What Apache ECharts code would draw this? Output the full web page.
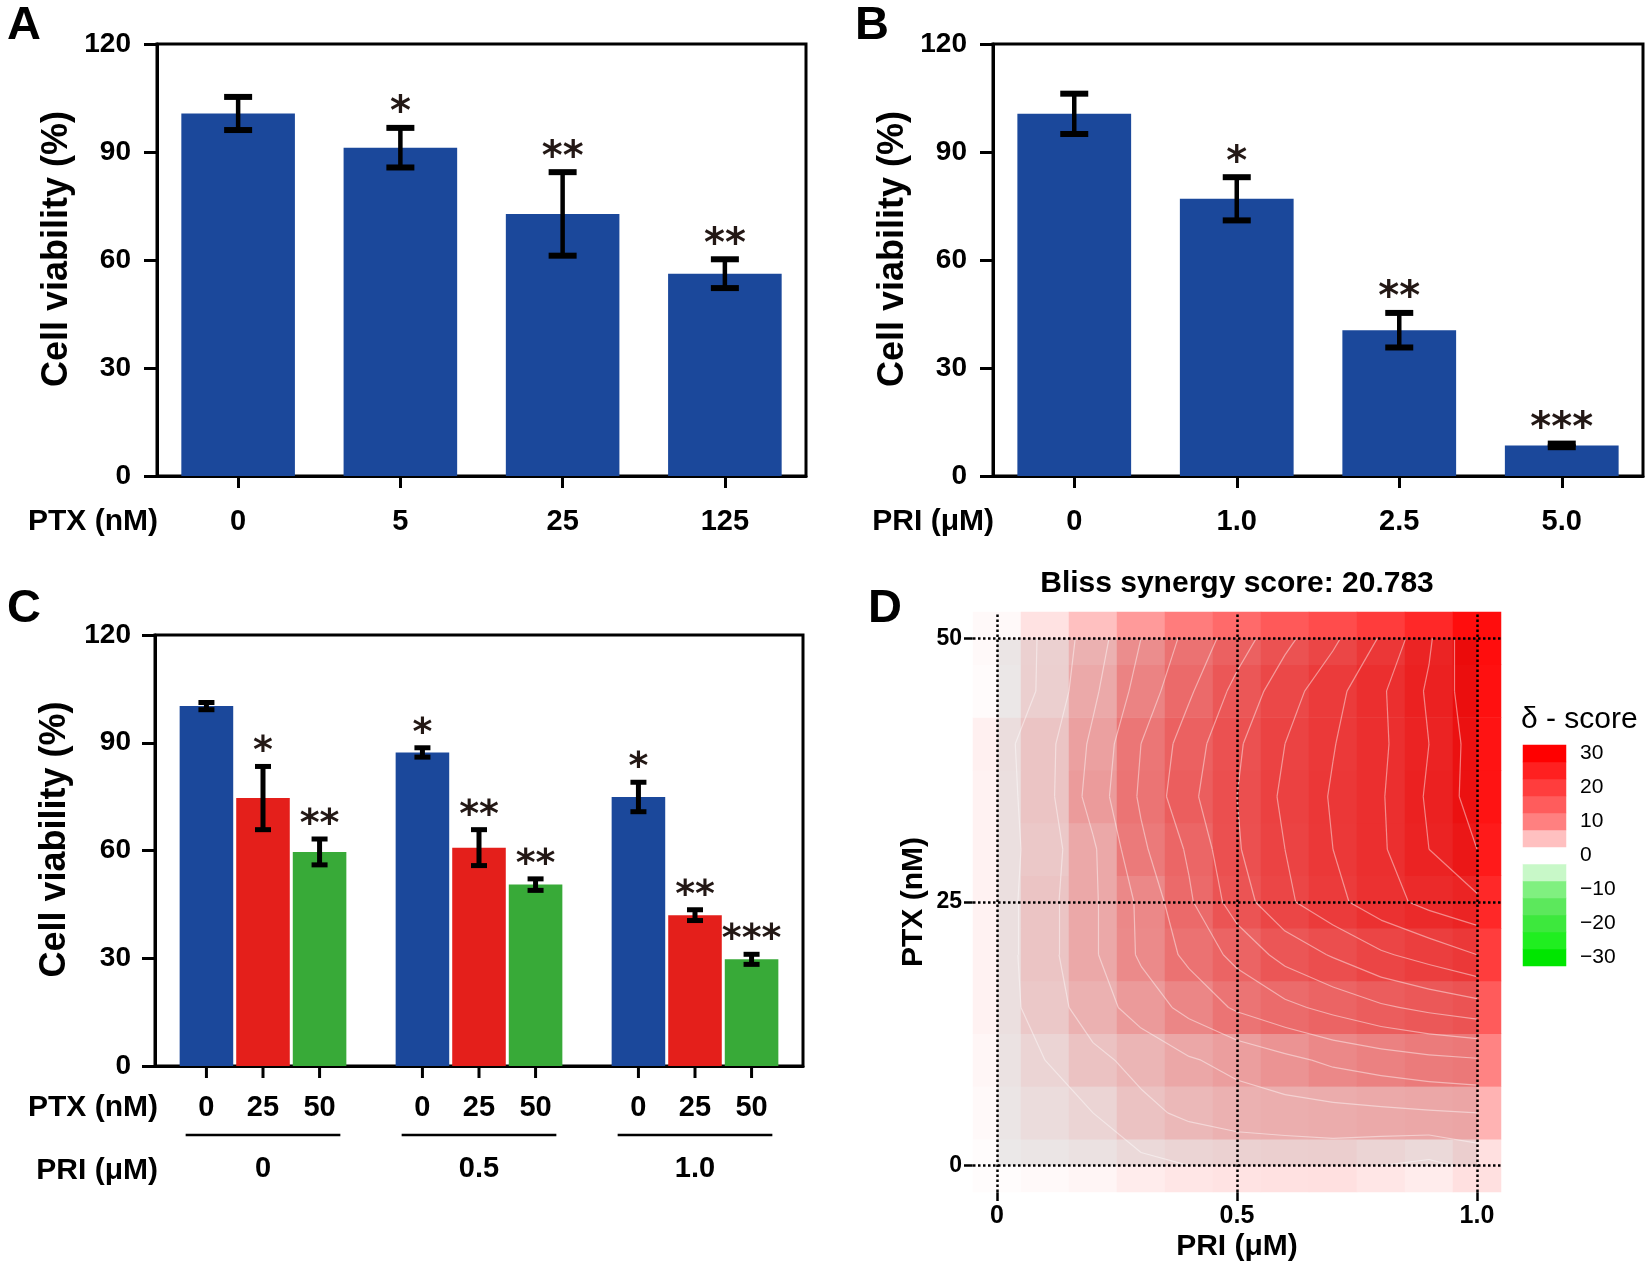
<!DOCTYPE html>
<html><head><meta charset="utf-8">
<script src="https://cdn.jsdelivr.net/npm/echarts@6/dist/echarts.min.js"></script>
<style>html,body{margin:0;padding:0;background:#fff}#c{width:1652px;height:1267px}</style>
</head><body><div id="c"></div>
<script>
// ---------- DATA ----------
// Panel A
const ptxDosesA = ['0', '5', '25', '125'];
const viabilityA = [100.7, 91.2, 72.8, 56.2];
const sdA = [4.6, 5.5, 11.6, 4.0];
const starsA = ['', '*', '**', '**'];
// Panel B
const priDosesB = ['0', '1.0', '2.5', '5.0'];
const viabilityB = [100.6, 77.0, 40.5, 8.5];
const sdB = [5.6, 6.0, 4.8, 0.5];
const starsB = ['', '*', '**', '***'];
// Panel C
const priGroupsC = ['0', '0.5', '1.0'];
const ptxLevelsC = ['0', '25', '50'];
const viabilityC_PTX0 = [100.2, 87.3, 74.9];
const viabilityC_PTX25 = [74.6, 60.8, 42.0];
const viabilityC_PTX50 = [59.6, 50.5, 29.7];
const sdC_PTX0 = [1.0, 1.3, 4.1];
const sdC_PTX25 = [8.8, 5.0, 1.5];
const sdC_PTX50 = [3.6, 1.6, 1.4];
const starsC_PTX0 = ['', '*', '*'];
const starsC_PTX25 = ['*', '**', '**'];
const starsC_PTX50 = ['**', '**', '***'];
// Panel D
const priD = ['0', '0.1', '0.2', '0.3', '0.4', '0.5', '0.6', '0.7', '0.8', '0.9', '1.0'];
const ptxD = ['0', '5', '10', '15', '20', '25', '30', '35', '40', '45', '50'];
// delta scores, one row per PTX level (0 -> 50), columns PRI 0 -> 1.0
const deltaPTX0  = [0.2, 0.5, 0.8, 1.5, 2.0, 2.2, 2.4, 2.5, 2.0, 1.5, 2.5];
const deltaPTX5  = [0.5, 1.3, 2.0, 3.5, 4.4, 5.0, 5.2, 5.4, 5.6, 5.8, 6.0];
const deltaPTX10 = [0.7, 2.0, 3.5, 4.6, 5.8, 6.6, 7.5, 8.4, 9.0, 9.5, 9.8];
const deltaPTX15 = [1.0, 3.0, 5.0, 6.9, 8.6, 10.3, 11.5, 12.6, 13.7, 14.5, 15.2];
const deltaPTX20 = [1.0, 3.3, 5.7, 8.3, 10.5, 12.6, 14.7, 16.2, 17.7, 18.8, 20.0];
const deltaPTX25 = [1.0, 3.3, 5.7, 8.4, 11.7, 15.0, 17.6, 19.4, 21.2, 22.6, 23.6];
const deltaPTX30 = [1.0, 3.0, 5.7, 9.6, 12.3, 15.8, 18.0, 20.0, 21.7, 24.0, 26.0];
const deltaPTX35 = [1.0, 3.3, 6.8, 10.3, 13.5, 16.0, 18.4, 20.2, 21.8, 24.3, 27.0];
const deltaPTX40 = [1.2, 3.3, 6.4, 10.0, 13.0, 15.7, 18.0, 19.9, 21.6, 24.0, 27.0];
const deltaPTX45 = [0.3, 2.4, 5.6, 8.8, 11.7, 14.6, 17.1, 19.3, 21.7, 24.3, 27.5];
const deltaPTX50 = [0.5, 2.3, 5.0, 8.0, 10.6, 13.0, 15.5, 17.6, 20.2, 23.7, 28.0];
const blissScore = '20.783';
const contourLevels = [2, 4, 6, 8, 10, 12, 14, 16, 18, 20, 22, 24, 26];
const legendBands = [-30, -25, -20, -15, -10, -5, 0, 5, 10, 15, 20, 25, 30];

// ---------- HELPERS ----------
const FONT = "'Liberation Sans', Arial, sans-serif";
const STARFONT = "'DejaVu Sans', sans-serif";
const BLUE = '#1b489b', RED = '#e41f1b', GREEN = '#38aa38';
const deltaRows = [deltaPTX0, deltaPTX5, deltaPTX10, deltaPTX15, deltaPTX20, deltaPTX25,
  deltaPTX30, deltaPTX35, deltaPTX40, deltaPTX45, deltaPTX50];

function valueY(gridIndex, labelMargin) {
  return {
    type: 'value', gridIndex, min: 0, max: 120, interval: 30,
    axisLine: { show: true, lineStyle: { color: '#000', width: 3 } },
    axisTick: { show: true, length: 13, lineStyle: { color: '#000', width: 3 } },
    axisLabel: { color: '#000', fontSize: 28, fontWeight: 'bold', fontFamily: FONT, margin: labelMargin },
    splitLine: { show: false },
    name: 'Cell viability (%)', nameLocation: 'middle', nameGap: 82, nameRotate: 90,
    nameTextStyle: { color: '#000', fontSize: 36, fontWeight: 'bold', fontFamily: FONT, padding: [0, 0, 0, 22] }
  };
}
function catX(gridIndex, data, showTick, margin) {
  return {
    type: 'category', gridIndex, data,
    axisLine: { lineStyle: { color: '#000', width: 3 } },
    axisTick: { show: showTick, alignWithLabel: true, length: 12, lineStyle: { color: '#000', width: 3 } },
    axisLabel: { color: '#000', fontSize: 29, fontWeight: 'bold', fontFamily: FONT, margin }
  };
}
function errSeries(xi, yi, means, sds, stars, opts) {
  const data = means.map((m, i) => [i, m, sds[i]]);
  return {
    type: 'custom', xAxisIndex: xi, yAxisIndex: yi, data, z: 5, silent: true,
    encode: { x: 0, y: 1 },
    renderItem: function (params, api) {
      const i = api.value(0), m = api.value(1), sd = api.value(2);
      const star = stars[params.dataIndex];
      let off = 0;
      if (opts.nBars) {
        const band = api.size([1, 0])[0];
        const w = band * opts.barFrac, gap = w * opts.gapFrac;
        const total = opts.nBars * w + (opts.nBars - 1) * gap;
        off = -total / 2 + opts.k * (w + gap) + w / 2;
      }
      const top = api.coord([i, m + sd]), bot = api.coord([i, m - sd]);
      const x = top[0] + off;
      const ch = opts.cap;
      const children = [
        { type: 'line', shape: { x1: x, y1: top[1], x2: x, y2: bot[1] }, style: { stroke: '#000', lineWidth: opts.lw } },
        { type: 'line', shape: { x1: x - ch, y1: top[1], x2: x + ch, y2: top[1] }, style: { stroke: '#000', lineWidth: opts.capLw } },
        { type: 'line', shape: { x1: x - ch, y1: bot[1], x2: x + ch, y2: bot[1] }, style: { stroke: '#000', lineWidth: opts.capLw } }
      ];
      if (star) {
        children.push({ type: 'text', style: { text: star, x: x, y: top[1] - opts.starGap, align: 'center', verticalAlign: 'middle',
          fill: '#231815', font: 'bold ' + opts.starSize + 'px ' + STARFONT } });
      }
      return { type: 'group', children };
    }
  };
}
function contourSegments(grid, xs, ys, levels) {
  const segs = [];
  levels.forEach(L => {
    for (let j = 0; j < ys.length - 1; j++) {
      for (let i = 0; i < xs.length - 1; i++) {
        const cx = [xs[i], xs[i + 1], xs[i + 1], xs[i]];
        const cy = [ys[j], ys[j], ys[j + 1], ys[j + 1]];
        const cv = [grid[j][i], grid[j][i + 1], grid[j + 1][i + 1], grid[j + 1][i]];
        const pts = [];
        [[0, 1], [1, 2], [2, 3], [3, 0]].forEach(([a, b]) => {
          if ((cv[a] < L) !== (cv[b] < L)) {
            const t = (L - cv[a]) / (cv[b] - cv[a]);
            pts.push([cx[a] + t * (cx[b] - cx[a]), cy[a] + t * (cy[b] - cy[a])]);
          }
        });
        if (pts.length === 2) segs.push({ coords: [pts[0], pts[1]] });
        else if (pts.length === 4) { segs.push({ coords: [pts[0], pts[1]] }); segs.push({ coords: [pts[2], pts[3]] }); }
      }
    }
  });
  return segs;
}

const heatData = [];
deltaRows.forEach((row, j) => row.forEach((v, i) => heatData.push([i, j, v])));
const contours = contourSegments(deltaRows, priD.map(Number), ptxD.map(Number), contourLevels);
const legendData = legendBands.map((v, k) => [0, k, v]);
const minus = v => (Number(v) < 0 ? '\u2212' + Math.abs(Number(v)) : String(v));

// ---------- CHART ----------
const chart = echarts.init(document.getElementById('c'), null, { renderer: 'canvas' });
const gridBorder = { show: true, borderColor: '#000', borderWidth: 3, backgroundColor: 'transparent' };
const optsAB = { cap: 14, lw: 4.5, capLw: 6, starGap: 14, starSize: 40 };
const optsC = { nBars: 3, barFrac: 0.248, gapFrac: 0.056, cap: 8, lw: 5, capLw: 5, starGap: 14, starSize: 38 };

const option = {
  animation: false,
  backgroundColor: '#fff',
  grid: [
    Object.assign({ left: 157, top: 44, width: 649, height: 432 }, gridBorder),
    Object.assign({ left: 993, top: 44, width: 650, height: 432 }, gridBorder),
    Object.assign({ left: 155, top: 635, width: 648, height: 431 }, gridBorder),
    { left: 973, top: 612, width: 528, height: 580 },
    { left: 973, top: 612, width: 528, height: 580 },
    { left: 1523, top: 745, width: 43, height: 221 }
  ],
  xAxis: [
    catX(0, ptxDosesA, true, 31),
    catX(1, priDosesB, true, 31),
    catX(2, priGroupsC, false, 88),
    {
      type: 'category', gridIndex: 3, data: priD,
      axisLine: { show: false },
      axisTick: { show: true, alignWithLabel: true, interval: idx => idx % 5 === 0, length: 9, lineStyle: { color: '#000', width: 2.5 } },
      axisLabel: { interval: idx => idx % 5 === 0, color: '#000', fontSize: 25, fontWeight: 'bold', fontFamily: FONT, margin: 12 },
      name: 'PRI (\u03bcM)', nameLocation: 'middle', nameGap: 40,
      nameTextStyle: { color: '#000', fontSize: 30, fontWeight: 'bold', fontFamily: FONT }
    },
    { type: 'value', gridIndex: 4, min: -0.05, max: 1.05, show: false },
    { type: 'category', gridIndex: 5, data: ['band'], show: false }
  ],
  yAxis: [
    valueY(0, 26),
    valueY(1, 26),
    valueY(2, 24),
    {
      type: 'category', gridIndex: 3, data: ptxD,
      axisLine: { show: false },
      axisTick: { show: true, alignWithLabel: true, interval: idx => idx % 5 === 0, length: 9, lineStyle: { color: '#000', width: 2.5 } },
      axisLabel: { interval: idx => idx % 5 === 0, color: '#000', fontSize: 23, fontWeight: 'bold', fontFamily: FONT, margin: 11 },
      name: 'PTX (nM)', nameLocation: 'middle', nameGap: 44, nameRotate: 90,
      nameTextStyle: { color: '#000', fontSize: 30, fontWeight: 'bold', fontFamily: FONT }
    },
    { type: 'value', gridIndex: 4, min: -2.5, max: 52.5, show: false },
    {
      type: 'category', gridIndex: 5, data: legendBands.map(String), position: 'right',
      axisLine: { show: false },
      axisTick: { show: true, inside: true, alignWithLabel: true, interval: idx => legendBands[idx] % 10 === 0, length: 8, lineStyle: { color: '#fff', width: 1.5 } },
      axisLabel: { interval: idx => legendBands[idx] % 10 === 0, color: '#000', fontSize: 21, fontFamily: FONT, margin: 14, formatter: minus }
    }
  ],
  visualMap: {
    type: 'continuous', show: false, min: -30, max: 30, seriesIndex: [11, 13],
    inRange: { color: ['#00e600', '#20ee20', '#3de83d', '#5ce85c', '#80f080', '#c8f8c8', '#ffffff',
      '#ffc0c0', '#ff8080', '#ff5c5c', '#ff3d3d', '#ff2020', '#ff0000'] }
  },
  series: [
    // 0,1 panel A
    { type: 'bar', xAxisIndex: 0, yAxisIndex: 0, data: viabilityA, barWidth: '70%', itemStyle: { color: BLUE } },
    errSeries(0, 0, viabilityA, sdA, starsA, optsAB),
    // 2,3 panel B
    { type: 'bar', xAxisIndex: 1, yAxisIndex: 1, data: viabilityB, barWidth: '70%', itemStyle: { color: BLUE } },
    errSeries(1, 1, viabilityB, sdB, starsB, optsAB),
    // 4-6 panel C bars
    { type: 'bar', xAxisIndex: 2, yAxisIndex: 2, data: viabilityC_PTX0, barWidth: '24.8%', barGap: '5.6%', itemStyle: { color: BLUE } },
    { type: 'bar', xAxisIndex: 2, yAxisIndex: 2, data: viabilityC_PTX25, barWidth: '24.8%', barGap: '5.6%', itemStyle: { color: RED } },
    { type: 'bar', xAxisIndex: 2, yAxisIndex: 2, data: viabilityC_PTX50, barWidth: '24.8%', barGap: '5.6%', itemStyle: { color: GREEN } },
    // 7-9 panel C error bars
    errSeries(2, 2, viabilityC_PTX0, sdC_PTX0, starsC_PTX0, Object.assign({ k: 0 }, optsC)),
    errSeries(2, 2, viabilityC_PTX25, sdC_PTX25, starsC_PTX25, Object.assign({ k: 1 }, optsC)),
    errSeries(2, 2, viabilityC_PTX50, sdC_PTX50, starsC_PTX50, Object.assign({ k: 2 }, optsC)),
    // 10 panel C ticks / PTX labels / brackets
    {
      type: 'custom', xAxisIndex: 2, yAxisIndex: 2, silent: true, z: 5,
      data: priGroupsC.map((g, i) => [i, 0]), encode: { x: 0, y: 1 },
      renderItem: function (params, api) {
        const g = api.value(0);
        const base = api.coord([g, 0]);
        const band = api.size([1, 0])[0];
        const w = band * optsC.barFrac, gap = w * optsC.gapFrac;
        const total = 3 * w + 2 * gap;
        const children = [];
        ptxLevelsC.forEach((lab, k) => {
          const x = base[0] - total / 2 + k * (w + gap) + w / 2;
          children.push({ type: 'line', shape: { x1: x, y1: base[1], x2: x, y2: base[1] + 12 }, style: { stroke: '#000', lineWidth: 3 } });
          children.push({ type: 'text', style: { text: lab, x: x, y: base[1] + 42, align: 'center', verticalAlign: 'middle', fill: '#000', font: 'bold 29px ' + FONT } });
        });
        const half = total / 2 - 6;
        children.push({ type: 'line', shape: { x1: base[0] - half, y1: base[1] + 69, x2: base[0] + half, y2: base[1] + 69 }, style: { stroke: '#000', lineWidth: 2.5 } });
        return { type: 'group', children };
      }
    },
    // 11 panel D heatmap
    {
      type: 'heatmap', xAxisIndex: 3, yAxisIndex: 3, data: heatData, z: 2, silent: true,
      markArea: { silent: true, z: 3, itemStyle: { color: 'rgba(0,0,0,0.08)' },
        data: [[{ xAxis: '0', yAxis: '0' }, { xAxis: '1.0', yAxis: '50' }]] },
      markLine: { silent: true, symbol: 'none', z: 6, label: { show: false },
        lineStyle: { color: '#000', type: 'dotted', width: 2.5 },
        data: [{ xAxis: '0' }, { xAxis: '0.5' }, { xAxis: '1.0' }, { yAxis: '0' }, { yAxis: '25' }, { yAxis: '50' }] }
    },
    // 12 contours
    {
      type: 'lines', coordinateSystem: 'cartesian2d', xAxisIndex: 4, yAxisIndex: 4, polyline: false,
      data: contours, silent: true, z: 4,
      lineStyle: { color: '#ffffff', width: 1.2, opacity: 0.45 }
    },
    // 13 legend
    { type: 'heatmap', xAxisIndex: 5, yAxisIndex: 5, data: legendData, silent: true }
  ],
  graphic: [
    { type: 'text', left: 7, top: 3, style: { text: 'A', font: 'bold 47px ' + FONT, fill: '#000' } },
    { type: 'text', left: 855, top: 3, style: { text: 'B', font: 'bold 47px ' + FONT, fill: '#000' } },
    { type: 'text', left: 7, top: 586, style: { text: 'C', font: 'bold 47px ' + FONT, fill: '#000' } },
    { type: 'text', left: 868, top: 586, style: { text: 'D', font: 'bold 47px ' + FONT, fill: '#000' } },
    { type: 'text', x: 158, y: 522, style: { text: 'PTX (nM)', align: 'right', verticalAlign: 'middle', font: 'bold 30px ' + FONT, fill: '#000' } },
    { type: 'text', x: 994, y: 522, style: { text: 'PRI (\u03bcM)', align: 'right', verticalAlign: 'middle', font: 'bold 30px ' + FONT, fill: '#000' } },
    { type: 'text', x: 158, y: 1108, style: { text: 'PTX (nM)', align: 'right', verticalAlign: 'middle', font: 'bold 30px ' + FONT, fill: '#000' } },
    { type: 'text', x: 158, y: 1171, style: { text: 'PRI (\u03bcM)', align: 'right', verticalAlign: 'middle', font: 'bold 30px ' + FONT, fill: '#000' } },
    { type: 'text', x: 1237, y: 584, style: { text: 'Bliss synergy score: ' + blissScore, align: 'center', verticalAlign: 'middle', font: 'bold 30px ' + FONT, fill: '#000' } },
    { type: 'text', x: 1521, y: 720, style: { text: '\u03b4 - score', align: 'left', verticalAlign: 'middle', font: '30px ' + FONT, fill: '#000' } }
  ]
};
chart.setOption(option);
</script>
</body></html>
